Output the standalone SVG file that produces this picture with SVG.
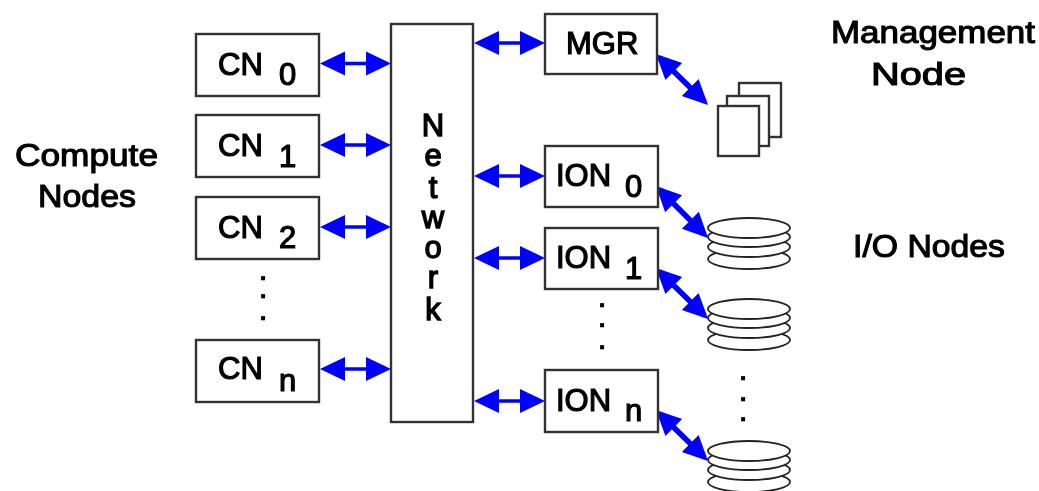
<svg xmlns="http://www.w3.org/2000/svg" width="1039" height="491" viewBox="0 0 1039 491">
<style>
.b{fill:#fff;stroke:#333;stroke-width:2.4}
.t{font-family:"Liberation Sans",Arial,sans-serif;font-size:31px;fill:#000;stroke:#000;stroke-width:1.2}
.l{font-family:"Liberation Sans",Arial,sans-serif;font-size:31px;fill:#000;stroke:#000;stroke-width:1.1}
.m{text-anchor:middle;stroke-width:1.4}
.p{font-family:"Liberation Sans",Arial,sans-serif;font-size:15px;fill:#000;stroke:#000;stroke-width:2.6;text-anchor:middle}
.h{stroke:#00f;stroke-width:3.5;fill:none;marker-start:url(#a);marker-end:url(#a)}
.d{stroke:#00f;stroke-width:5.5;fill:none;marker-start:url(#a);marker-end:url(#a)}
.e{fill:#fff;stroke:#222;stroke-width:1.8}
</style>
<defs>
<marker id="a" markerUnits="userSpaceOnUse" markerWidth="26" markerHeight="26" viewBox="0 0 26 26" refX="20" refY="13" orient="auto-start-reverse"><path d="M0 1L25 13L0 25Z" fill="#00f"/></marker>
<g id="disk"><ellipse class="e" cx="41" cy="31" rx="41" ry="10"/><ellipse class="e" cx="41" cy="19" rx="41" ry="10"/><ellipse class="e" cx="41" cy="9" rx="41" ry="10"/><ellipse class="e" cx="41" cy="0" rx="41" ry="10"/></g>
<filter id="s" x="0" y="0" width="100%" height="100%"><feGaussianBlur stdDeviation=".45"/></filter>
</defs>
<g filter="url(#s)">
<rect width="1039" height="491" fill="#fff"/>
<g id="connectors">
<line class="h" x1="325" y1="63.5" x2="386" y2="63.5"/>
<line class="h" x1="325" y1="145" x2="386" y2="145"/>
<line class="h" x1="325" y1="227" x2="386" y2="227"/>
<line class="h" x1="325" y1="369" x2="386" y2="369"/>
<line class="h" x1="479" y1="43" x2="540" y2="43"/>
<line class="h" x1="479" y1="176" x2="540" y2="176"/>
<line class="h" x1="479" y1="258" x2="540" y2="258"/>
<line class="h" x1="479" y1="401" x2="540" y2="401"/>
<line class="d" x1="659.5" y1="57.5" x2="704.5" y2="101.5"/>
<line class="d" x1="659.5" y1="189.5" x2="704.5" y2="234.5"/>
<line class="d" x1="659.5" y1="271.5" x2="704.5" y2="315.5"/>
<line class="d" x1="659.5" y1="413.5" x2="704.5" y2="457.5"/>
</g>
<g id="cn0"><rect class="b" x="196" y="34" width="123" height="62"/><text class="t" x="218" y="75">CN</text><text class="t" x="279" y="85">0</text></g>
<g id="cn1"><rect class="b" x="196" y="115" width="123" height="62"/><text class="t" x="218" y="156">CN</text><text class="t" x="279" y="167">1</text></g>
<g id="cn2"><rect class="b" x="196" y="197" width="123" height="62"/><text class="t" x="218" y="238">CN</text><text class="t" x="279" y="248">2</text></g>
<g id="cnn"><rect class="b" x="196" y="340" width="123" height="62"/><text class="t" x="218" y="379">CN</text><text class="t" x="279" y="391">n</text></g>
<g id="network"><rect class="b" x="391" y="24" width="82" height="398"/>
<text class="l m" x="433 433 433 433 433 433 433" y="136 166 198 228 258 288 320">Network</text></g>
<g id="mgr"><rect class="b" x="545" y="14" width="112" height="60"/><text class="t" x="566" y="54">MGR</text></g>
<g id="ion0"><rect class="b" x="545" y="146" width="113" height="61"/><text class="t" x="556" y="186">ION</text><text class="t" x="625" y="197">0</text></g>
<g id="ion1"><rect class="b" x="545" y="228" width="113" height="61"/><text class="t" x="556" y="268">ION</text><text class="t" x="625" y="279">1</text></g>
<g id="ionn"><rect class="b" x="545" y="370" width="113" height="62"/><text class="t" x="556" y="411">ION</text><text class="t" x="625" y="421">n</text></g>
<g id="papers"><rect class="b" x="739" y="83" width="42" height="54"/><rect class="b" x="727" y="96" width="42" height="50"/><rect class="b" x="718" y="106" width="41" height="50"/></g>
<g id="disk0"><use href="#disk" x="708" y="228"/></g>
<g id="disk1"><use href="#disk" x="708" y="309"/></g>
<g id="disk2"><use href="#disk" x="708" y="451"/></g>
<g id="labels">
<text class="l" x="15" y="166" textLength="143" lengthAdjust="spacingAndGlyphs">Compute</text><text class="l" x="38" y="207" textLength="98" lengthAdjust="spacingAndGlyphs">Nodes</text>
<text class="l" x="831" y="43" textLength="204" lengthAdjust="spacingAndGlyphs">Management</text><text class="l" x="871" y="85" textLength="95" lengthAdjust="spacingAndGlyphs">Node</text>
<text class="l" x="853" y="257" textLength="152" lengthAdjust="spacingAndGlyphs">I/O Nodes</text>
<text class="p" x="263" y="279">.</text><text class="p" x="263" y="297">.</text><text class="p" x="263" y="319">.</text>
<text class="p" x="602" y="306">.</text><text class="p" x="602" y="326">.</text><text class="p" x="602" y="348">.</text>
<text class="p" x="743" y="379">.</text><text class="p" x="743" y="400">.</text><text class="p" x="743" y="420">.</text>
</g>
</g>
</svg>
